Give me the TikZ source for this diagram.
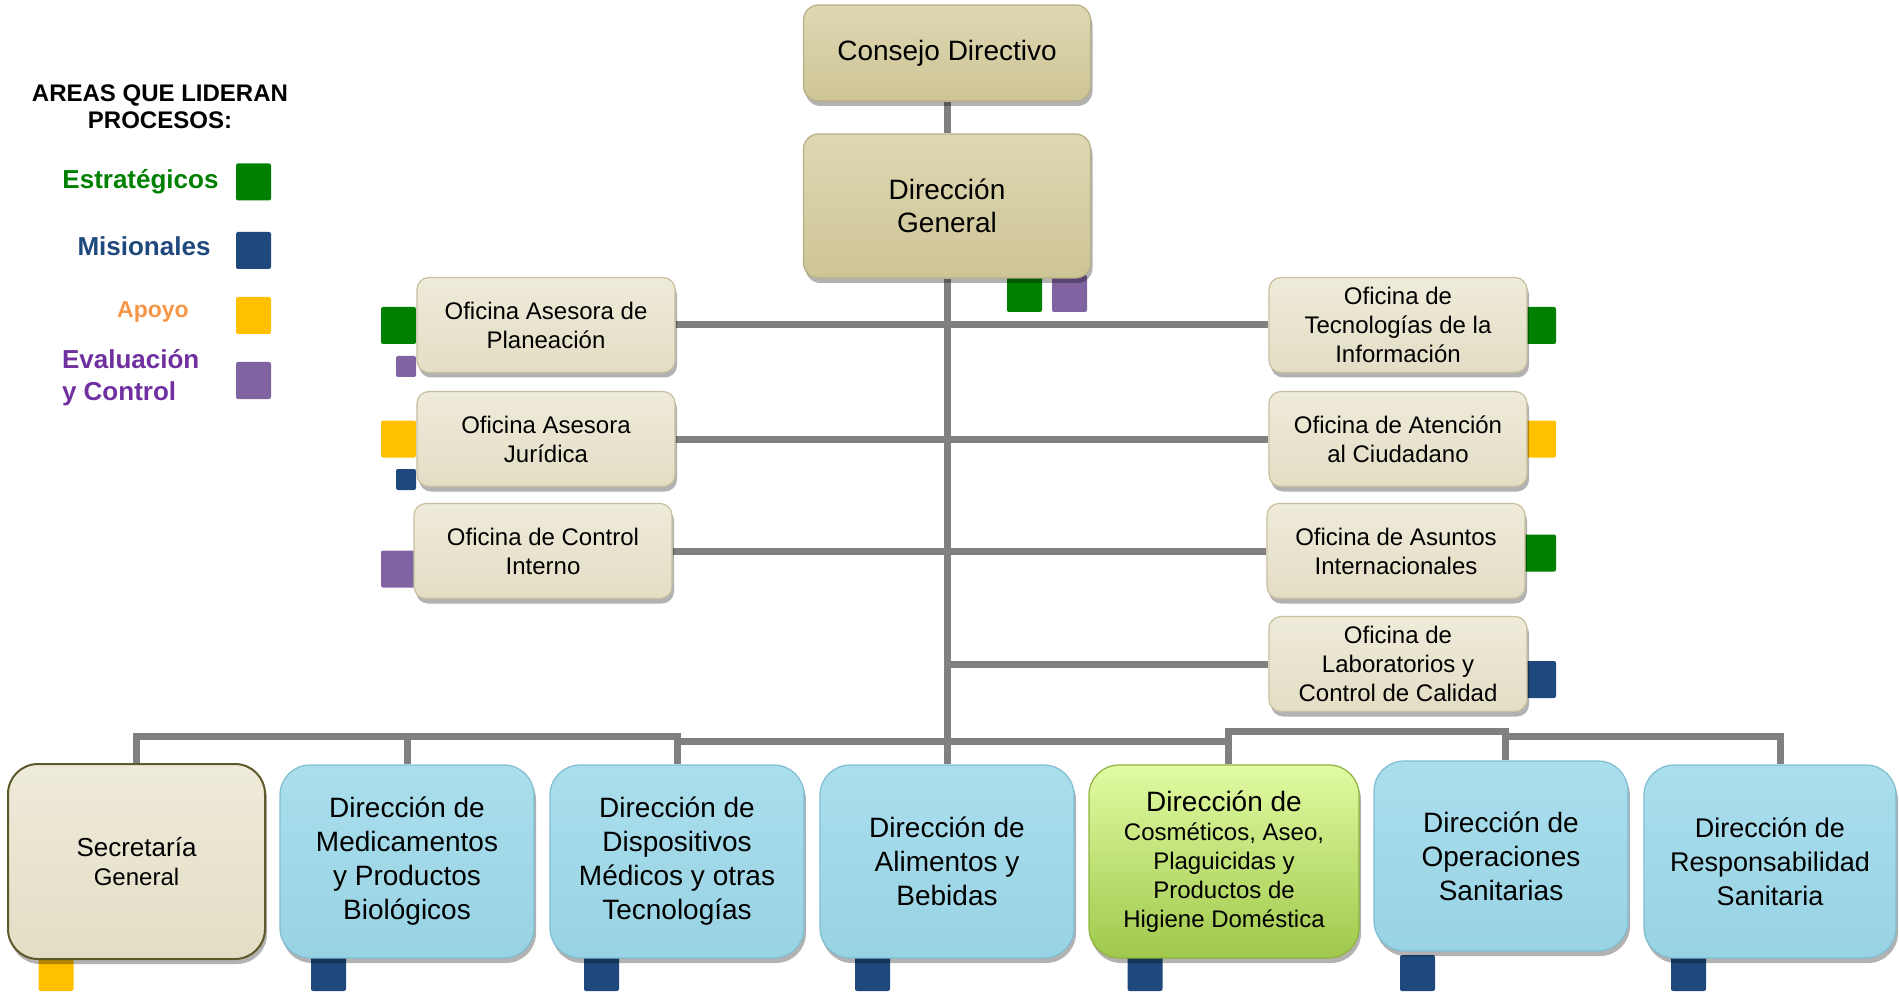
\documentclass[tikz,border=0pt]{standalone}
\usepackage{fontspec}
\setmainfont{Liberation Sans}
\usetikzlibrary{shadows,backgrounds}

\definecolor{estrat}{HTML}{008000}
\definecolor{misional}{HTML}{1F497D}
\definecolor{apoyo}{HTML}{FFC000}
\definecolor{evalua}{HTML}{8064A2}
\definecolor{apoyotxt}{HTML}{F79646}
\definecolor{evaluatxt}{HTML}{7030A0}
\definecolor{conector}{HTML}{808080}
\definecolor{tantop}{HTML}{DED7B2}
\definecolor{tanbot}{HTML}{CEC596}
\definecolor{tanline}{HTML}{B9AF86}
\definecolor{crematop}{HTML}{EFEBDA}
\definecolor{cremabot}{HTML}{E3DDC4}
\definecolor{cremaline}{HTML}{C7BF9E}
\definecolor{azultop}{HTML}{AADEEC}
\definecolor{azulbot}{HTML}{98D3E4}
\definecolor{azulline}{HTML}{80BDD2}
\definecolor{verdetop}{HTML}{E1FBA2}
\definecolor{verdebot}{HTML}{A0C84C}
\definecolor{verdeline}{HTML}{8DB33C}

\tikzset{
  conn/.style={draw=conector, line width=3.5pt},
  basebox/.style={inner sep=0pt, align=center,
    drop shadow={shadow xshift=1pt, shadow yshift=-2.5pt, fill=black, opacity=0.3}},
  topbox/.style={basebox, rounded corners=7.5pt, minimum width=143.5pt,
    top color=tantop, bottom color=tanbot, draw=tanline, line width=0.6pt,
    font=\fontsize{14}{16.5}\selectfont},
  ofibox/.style={basebox, rounded corners=6pt, minimum width=129pt, minimum height=47.5pt,
    top color=crematop, bottom color=cremabot, draw=cremaline, line width=0.6pt,
    font=\fontsize{12}{14.5}\selectfont},
  dirbox/.style={basebox, rounded corners=15pt, minimum width=127pt, minimum height=96.5pt,
    top color=azultop, bottom color=azulbot, draw=azulline, line width=0.6pt,
    font=\fontsize{14}{17}\selectfont},
  sqbox/.style={inner sep=0pt, rounded corners=1pt, minimum width=17.5pt, minimum height=18.5pt},
  sqsmall/.style={sqbox, minimum width=10pt, minimum height=10.5pt},
  leyenda/.style={font=\bfseries\fontsize{13}{16}\selectfont}
}

\begin{document}
\begin{tikzpicture}[x=0.5pt,y=-0.5pt]
  \useasboundingbox (0,0) rectangle (1899,994);

  % Leyenda
  \node[font=\bfseries\fontsize{12}{13.5}\selectfont, align=center] (titulo) at (160,107) {AREAS QUE LIDERAN\\PROCESOS:};
  \node[leyenda, text=estrat] (lbl-estrat) at (140.5,182) {Estratégicos};
  \node[leyenda, text=misional] (lbl-misional) at (144,246) {Misionales};
  \node[leyenda, font=\bfseries\fontsize{11.5}{14}\selectfont, text=apoyotxt] (lbl-apoyo) at (153,312) {Apoyo};
  \node[leyenda, text=evaluatxt, align=left, anchor=west] (lbl-evalua) at (55,378) {Evaluación\\y Control};
  \foreach \c/\y in {estrat/182, misional/250.5, apoyo/315.5, evalua/380.5} {
    \node[sqbox, fill=\c] (ley-\c) at (253.5,\y) {};
  }

  % Direccion
  \node[topbox, minimum height=48pt] (consejo) at (947,53) {Consejo Directivo};
  \node[topbox, minimum height=72pt] (dirgen) at (947,206) {Dirección\\General};

  % Oficinas izquierda
  \node[ofibox] (planeacion) at (546,325) {Oficina Asesora de\\Planeación};
  \node[ofibox] (juridica) at (546,439) {Oficina Asesora\\Jurídica};
  \node[ofibox] (control) at (543,551) {Oficina de Control\\Interno};

  % Oficinas derecha
  \node[ofibox] (tecnologias) at (1398,325) {Oficina de\\Tecnologías de la\\Información};
  \node[ofibox] (atencion) at (1398,439) {Oficina de Atención\\al Ciudadano};
  \node[ofibox] (asuntos) at (1396,551) {Oficina de Asuntos\\Internacionales};
  \node[ofibox] (laboratorios) at (1398,664) {Oficina de\\Laboratorios y\\Control de Calidad};

  % Direcciones tecnicas
  \node[dirbox, top color=crematop, bottom color=cremabot, draw=black!45!olive, line width=1pt,
    minimum width=128.5pt, minimum height=97.5pt, font=\fontsize{13}{14.5}\selectfont]
    (secretaria) at (136.5,861.5) {Secretaría\\{\fontsize{12}{14.5}\selectfont General}};
  \node[dirbox] (medicamentos) at (407,861.5) {Dirección de\\Medicamentos\\y Productos\\Biológicos};
  \node[dirbox] (dispositivos) at (677,861.5) {Dirección de\\Dispositivos\\Médicos y otras\\Tecnologías};
  \node[dirbox] (alimentos) at (947,861.5) {Dirección de\\Alimentos y\\Bebidas};
  \node[dirbox, minimum width=135pt, top color=verdetop, bottom color=verdebot, draw=verdeline,
    font=\fontsize{12}{14.5}\selectfont]
    (cosmeticos) at (1224,861.5) {{\fontsize{14}{14.5}\selectfont Dirección de}\\Cosméticos, Aseo,\\Plaguicidas y\\Productos de\\Higiene Doméstica};
  \node[dirbox, minimum height=95pt] (operaciones) at (1501,856) {Dirección de\\Operaciones\\Sanitarias};
  \node[dirbox, minimum width=126pt, font=\fontsize{13.5}{17}\selectfont] (responsabilidad) at (1770,861.5) {Dirección de\\Responsabilidad\\Sanitaria};

  \begin{pgfonlayer}{background}
    % Eje central
    \draw[conn] (consejo) -- (dirgen);
    \draw[conn] (dirgen) -- (alimentos);

    % Ramas de oficinas
    \foreach \o in {planeacion,juridica,control,tecnologias,atencion,asuntos,laboratorios} {
      \draw[conn] (\o) -- (\o -| dirgen);
    }

    % Barra inferior
    \coordinate (bus-izq) at (0,736);
    \coordinate (bus-cen) at (0,741);
    \coordinate (bus-der) at (0,731);
    \coordinate (bus-der2) at (0,736);
    \draw[conn] (secretaria.north) |- (dispositivos.north |- bus-izq) -- (dispositivos.north);
    \draw[conn] (medicamentos.north) -- (medicamentos.north |- bus-izq);
    \draw[conn] (dispositivos.north |- bus-cen) -- ([xshift=2pt]cosmeticos.north |- bus-cen);
    \draw[conn] ([xshift=2pt]cosmeticos.north) |- ([xshift=2pt]operaciones.north |- bus-der)
      -- ([xshift=2pt]operaciones.north);
    \draw[conn] ([xshift=2pt]operaciones.north |- bus-der2) -| ([xshift=5pt]responsabilidad.north);

    % Procesos por area
    \node[sqbox, fill=estrat] (dg-estrat) at (1024.5,293.5) {};
    \node[sqbox, fill=evalua] (dg-evalua) at (1069.5,293.5) {};
    \node[sqbox, fill=estrat] (pl-estrat) at (398.5,325.5) {};
    \node[sqsmall, fill=evalua] (pl-evalua) at (406,366.5) {};
    \node[sqbox, fill=apoyo] (ju-apoyo) at (398.5,439) {};
    \node[sqsmall, fill=misional] (ju-misional) at (406,479.5) {};
    \node[sqbox, fill=evalua] (ci-evalua) at (398.5,569) {};
    \node[sqbox, fill=estrat] (te-estrat) at (1538.5,325.5) {};
    \node[sqbox, fill=apoyo] (at-apoyo) at (1538.5,439) {};
    \node[sqbox, fill=estrat] (as-estrat) at (1538.5,553) {};
    \node[sqbox, fill=misional] (la-misional) at (1538.5,679.5) {};
    \foreach \x/\c in {56/apoyo, 328.5/misional, 601.5/misional, 872.5/misional,
                       1145/misional, 1417.5/misional, 1688.5/misional} {
      \node[sqbox, fill=\c, minimum height=18pt] at (\x,973) {};
    }
  \end{pgfonlayer}
\end{tikzpicture}
\end{document}
